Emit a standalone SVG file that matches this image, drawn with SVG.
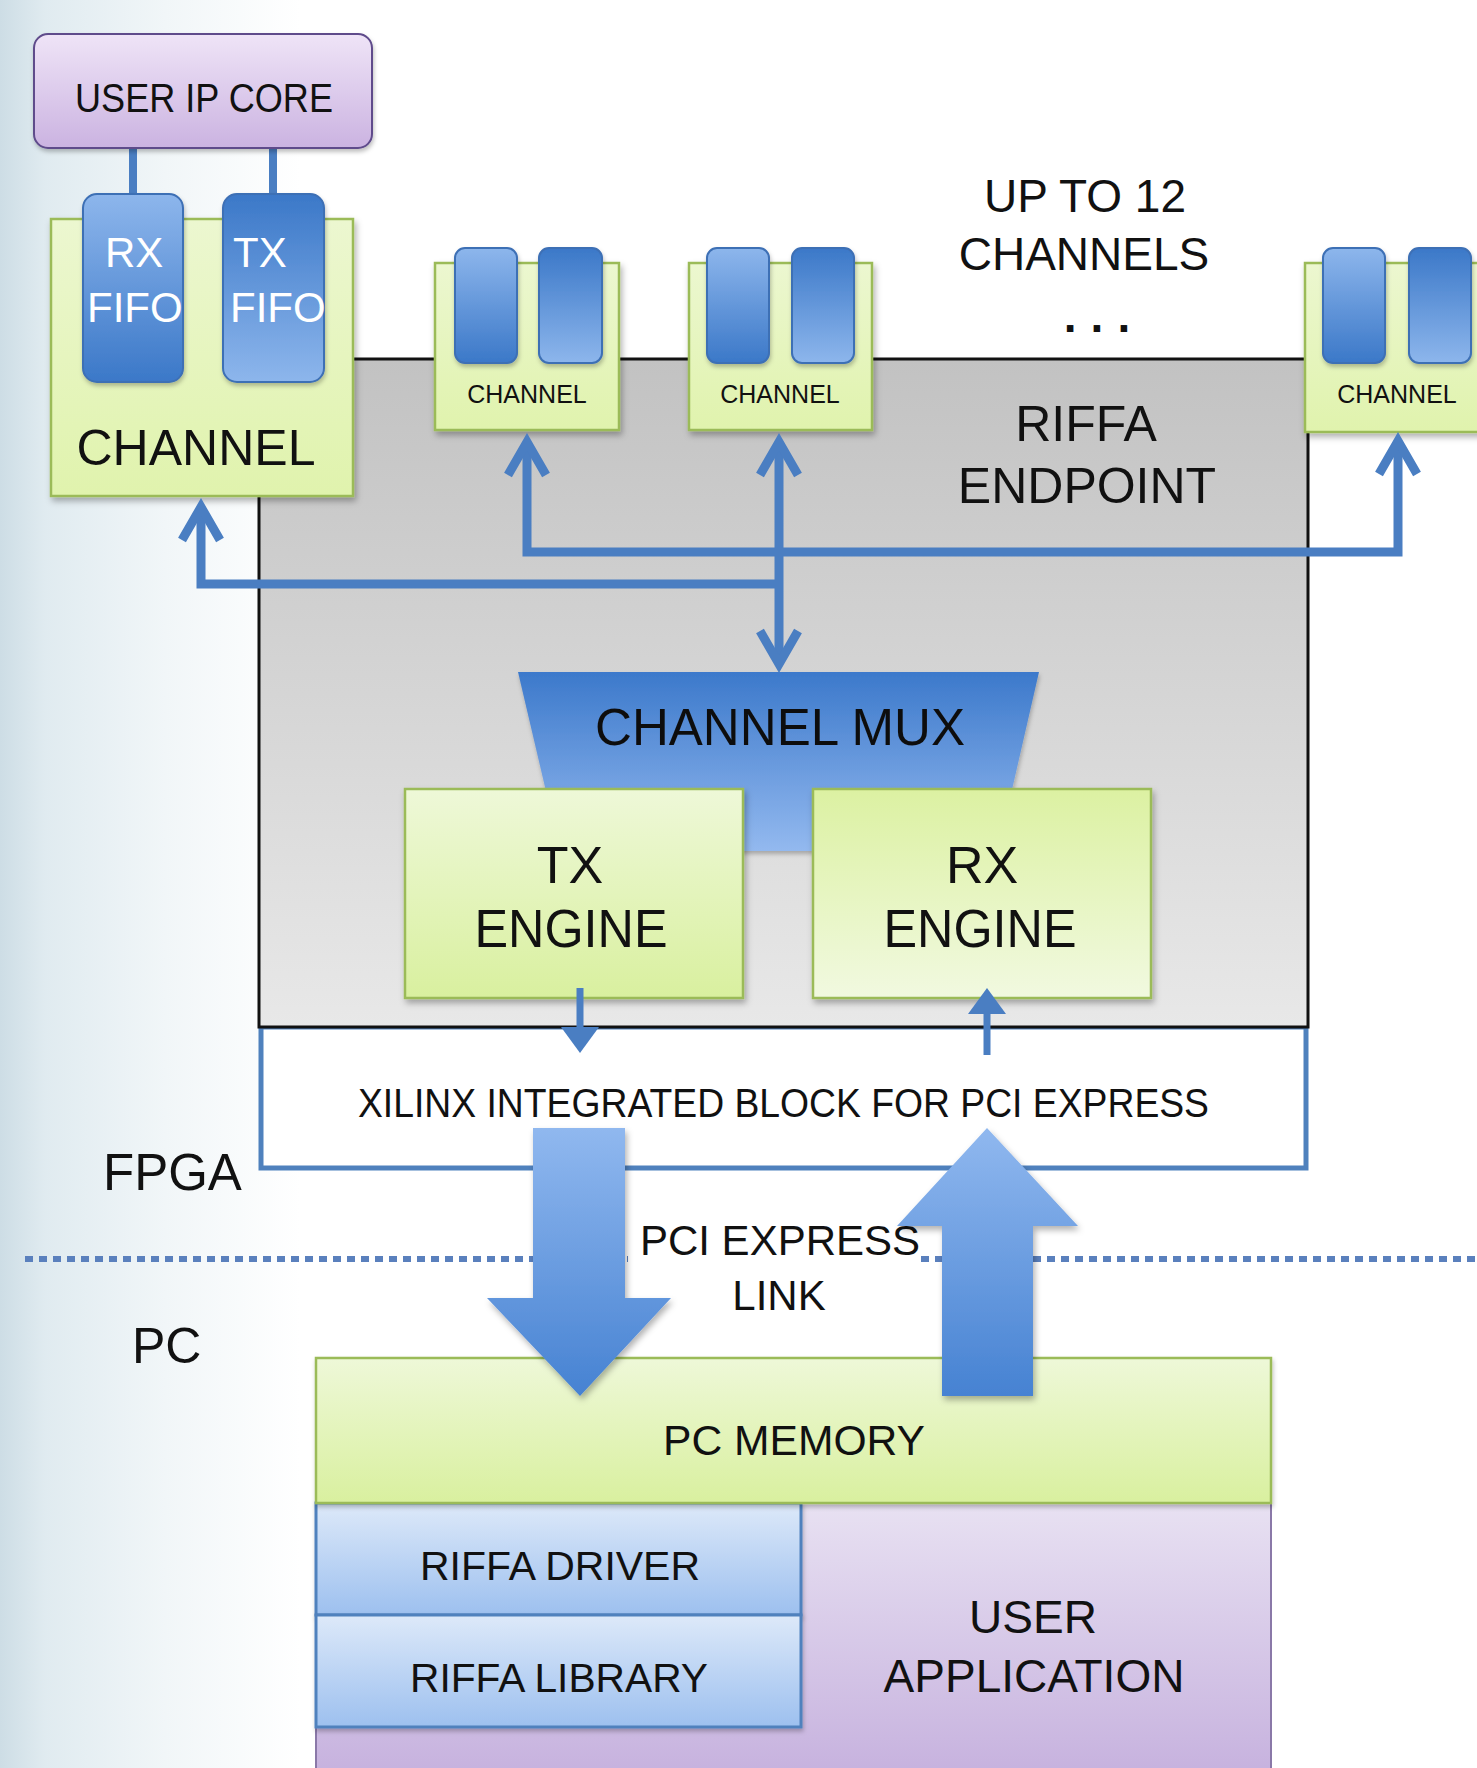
<svg xmlns="http://www.w3.org/2000/svg" width="1477" height="1768" viewBox="0 0 1477 1768">
<defs>
<style>
.t{font-family:"Liberation Sans",Arial,sans-serif;fill:#111}
.c{text-anchor:middle}
.g{stroke:#9bbb59;stroke-width:2.5}
.fifo{stroke:#3d6fb5;stroke-width:2}
.bus{fill:none;stroke:#4a7ec2;stroke-width:9;stroke-linejoin:miter;stroke-miterlimit:10}
.thin{fill:none;stroke:#4a7ec2;stroke-width:7}
</style>
<linearGradient id="bg" x1="0" y1="0" x2="1" y2="0">
<stop offset="0" stop-color="#cddde5"/><stop offset="0.15" stop-color="#e0ebf0"/><stop offset="0.55" stop-color="#f1f6f8"/><stop offset="1" stop-color="#ffffff"/>
</linearGradient>
<linearGradient id="grey" x1="0" y1="0" x2="0" y2="1"><stop offset="0" stop-color="#c2c2c2"/><stop offset="1" stop-color="#e8e8e8"/></linearGradient>
<linearGradient id="green" x1="0" y1="0" x2="0" y2="1"><stop offset="0" stop-color="#eef8d8"/><stop offset="1" stop-color="#d9f09f"/></linearGradient>
<linearGradient id="greenR" x1="0" y1="0" x2="0" y2="1"><stop offset="0" stop-color="#dcf1a2"/><stop offset="1" stop-color="#f1f9e0"/></linearGradient>
<linearGradient id="chg" x1="0" y1="0" x2="0" y2="1"><stop offset="0" stop-color="#ecf7d0"/><stop offset="1" stop-color="#e0f3ad"/></linearGradient>
<linearGradient id="fifoA" x1="0" y1="0" x2="0" y2="1"><stop offset="0" stop-color="#8db6ec"/><stop offset="1" stop-color="#3b78c8"/></linearGradient>
<linearGradient id="fifoB" x1="0" y1="0" x2="0" y2="1"><stop offset="0" stop-color="#3b78c8"/><stop offset="1" stop-color="#8db6ec"/></linearGradient>
<linearGradient id="mux" x1="0" y1="0" x2="0" y2="1"><stop offset="0" stop-color="#3c79cb"/><stop offset="1" stop-color="#93b9ef"/></linearGradient>
<linearGradient id="big" x1="0" y1="0" x2="0" y2="1"><stop offset="0" stop-color="#90b8ef"/><stop offset="1" stop-color="#4682d2"/></linearGradient>
<linearGradient id="purp" x1="0" y1="0" x2="0" y2="1"><stop offset="0" stop-color="#efe4f7"/><stop offset="1" stop-color="#cbb3e1"/></linearGradient>
<linearGradient id="purp2" x1="0" y1="0" x2="0" y2="1"><stop offset="0" stop-color="#e8e1f2"/><stop offset="1" stop-color="#c6b1de"/></linearGradient>
<linearGradient id="blue" x1="0" y1="0" x2="0" y2="1"><stop offset="0" stop-color="#dde9f9"/><stop offset="1" stop-color="#9dc0ef"/></linearGradient>
<filter id="sh" x="-10%" y="-10%" width="130%" height="130%"><feDropShadow dx="2" dy="4" stdDeviation="3" flood-color="#000" flood-opacity="0.3"/></filter>
<filter id="sh2" x="-10%" y="-10%" width="130%" height="130%"><feDropShadow dx="1" dy="3" stdDeviation="2" flood-color="#000" flood-opacity="0.25"/></filter>
<marker id="chev" markerUnits="userSpaceOnUse" viewBox="-50 -30 70 60" refX="0" refY="0" markerWidth="70" markerHeight="60" orient="auto-start-reverse" overflow="visible">
<path d="M-32,-19 L1,0 L-32,19" fill="none" stroke="#4a7ec2" stroke-width="9" stroke-linejoin="miter" stroke-miterlimit="10"/>
</marker>
<marker id="tri" markerUnits="userSpaceOnUse" viewBox="-30 -25 50 50" refX="0" refY="0" markerWidth="50" markerHeight="50" orient="auto" overflow="visible">
<path d="M8,0 L-18,-19 L-18,19 Z" fill="#4a7ec2"/>
</marker>
</defs>

<rect width="1477" height="1768" fill="#fff"/>
<rect width="300" height="1768" fill="url(#bg)"/>

<!-- PCIe divider and labels -->
<g id="divider">
<line x1="25" y1="1259" x2="1477" y2="1259" stroke="#5a80bd" stroke-width="6" stroke-dasharray="8 6"/>
</g>
<g id="pcie-label">
<rect x="628" y="1222" width="292" height="108" fill="#fff"/>
<text class="t c" x="780" y="1255" font-size="42">PCI EXPRESS</text>
<text class="t c" x="779" y="1310" font-size="42">LINK</text>
</g>
<g id="fpga-label"><text class="t" x="103" y="1190" font-size="51">FPGA</text></g>
<g id="pc-label"><text class="t" x="132" y="1363" font-size="50">PC</text></g>

<!-- Xilinx block -->
<g id="xilinx">
<rect x="261" y="1027" width="1045" height="141" fill="#fff" stroke="#4f81bd" stroke-width="5"/>
<text class="t" x="358" y="1117" font-size="40" textLength="851" lengthAdjust="spacingAndGlyphs">XILINX INTEGRATED BLOCK FOR PCI EXPRESS</text>
</g>

<!-- RIFFA endpoint -->
<g id="riffa-endpoint">
<rect x="259" y="359" width="1049" height="668" fill="url(#grey)" stroke="#111" stroke-width="3"/>
<text class="t c" x="1086" y="441" font-size="50">RIFFA</text>
<text class="t c" x="1087" y="503" font-size="50">ENDPOINT</text>
</g>

<g id="up-to-12">
<text class="t c" x="1085" y="212" font-size="46">UP TO 12</text>
<text class="t c" x="1084" y="270" font-size="46">CHANNELS</text>
<text class="t c" x="1104" y="332" font-size="46" font-weight="bold" letter-spacing="14">...</text>
</g>

<!-- Channel MUX -->
<g id="channel-mux" filter="url(#sh2)">
<polygon points="518,672 1039,672 998,851 560,851" fill="url(#mux)"/>
<text class="t c" x="780" y="745" font-size="52" textLength="370" lengthAdjust="spacingAndGlyphs">CHANNEL MUX</text>
</g>

<g id="tx-engine">
<rect x="405" y="789" width="338" height="209" fill="url(#green)" class="g" filter="url(#sh)"/>
<text class="t c" x="570" y="883" font-size="52">TX</text>
<text class="t c" x="571" y="947" font-size="53" textLength="193" lengthAdjust="spacingAndGlyphs">ENGINE</text>
</g>
<g id="rx-engine">
<rect x="813" y="789" width="338" height="209" fill="url(#greenR)" class="g" filter="url(#sh)"/>
<text class="t c" x="982" y="883" font-size="52">RX</text>
<text class="t c" x="980" y="947" font-size="53" textLength="193" lengthAdjust="spacingAndGlyphs">ENGINE</text>
</g>

<!-- User IP core -->
<g id="ipcore-links">
<line x1="133" y1="146" x2="133" y2="200" stroke="#4a7ec2" stroke-width="8"/>
<line x1="273" y1="146" x2="273" y2="200" stroke="#4a7ec2" stroke-width="8"/>
</g>
<g id="user-ip-core">
<rect x="34" y="34" width="338" height="114" rx="14" fill="url(#purp)" stroke="#5f4b8b" stroke-width="2" filter="url(#sh2)"/>
<text class="t" x="75" y="112" font-size="41" textLength="258" lengthAdjust="spacingAndGlyphs">USER IP CORE</text>
</g>

<!-- Channel 1 (expanded) -->
<g id="channel-1">
<rect x="51" y="219" width="302" height="277" fill="url(#chg)" class="g" filter="url(#sh)"/>
<rect x="83" y="194" width="100" height="188" rx="14" fill="url(#fifoA)" class="fifo" filter="url(#sh2)"/>
<rect x="223" y="194" width="101" height="188" rx="14" fill="url(#fifoB)" class="fifo" filter="url(#sh2)"/>
<text class="t" x="105" y="267" font-size="42" style="fill:#fff">RX</text>
<text class="t" x="87" y="322" font-size="42" style="fill:#fff">FIFO</text>
<text class="t" x="233" y="267" font-size="42" style="fill:#fff">TX</text>
<text class="t" x="230" y="322" font-size="42" style="fill:#fff">FIFO</text>
<text class="t c" x="196" y="465" font-size="50">CHANNEL</text>
</g>

<g id="channel-2">
<rect x="435" y="263" width="184" height="167" fill="url(#chg)" class="g" filter="url(#sh)"/>
<rect x="455" y="248" width="62" height="115" rx="10" fill="url(#fifoA)" class="fifo" filter="url(#sh2)"/>
<rect x="539" y="248" width="63" height="115" rx="10" fill="url(#fifoB)" class="fifo" filter="url(#sh2)"/>
<text class="t c" x="527" y="403" font-size="25">CHANNEL</text>
</g>
<g id="channel-3">
<rect x="689" y="263" width="183" height="167" fill="url(#chg)" class="g" filter="url(#sh)"/>
<rect x="707" y="248" width="62" height="115" rx="10" fill="url(#fifoA)" class="fifo" filter="url(#sh2)"/>
<rect x="792" y="248" width="62" height="115" rx="10" fill="url(#fifoB)" class="fifo" filter="url(#sh2)"/>
<text class="t c" x="780" y="403" font-size="25">CHANNEL</text>
</g>
<g id="channel-n">
<rect x="1305" y="263" width="184" height="169" fill="url(#chg)" class="g" filter="url(#sh)"/>
<rect x="1323" y="248" width="62" height="115" rx="10" fill="url(#fifoA)" class="fifo" filter="url(#sh2)"/>
<rect x="1409" y="248" width="62" height="115" rx="10" fill="url(#fifoB)" class="fifo" filter="url(#sh2)"/>
<text class="t c" x="1397" y="403" font-size="25">CHANNEL</text>
</g>

<!-- PC side -->
<g id="user-application">
<rect x="316" y="1503" width="955" height="275" fill="url(#purp2)" stroke="#8a78a8" stroke-width="2"/>
<text class="t c" x="1033" y="1633" font-size="46">USER</text>
<text class="t c" x="1034" y="1692" font-size="46">APPLICATION</text>
</g>
<g id="riffa-driver">
<rect x="316" y="1503" width="485" height="112" fill="url(#blue)" stroke="#4f81bd" stroke-width="3" filter="url(#sh2)"/>
<text class="t" x="420" y="1580" font-size="41" textLength="280" lengthAdjust="spacingAndGlyphs">RIFFA DRIVER</text>
</g>
<g id="riffa-library">
<rect x="316" y="1615" width="485" height="112" fill="url(#blue)" stroke="#4f81bd" stroke-width="3" filter="url(#sh2)"/>
<text class="t" x="410" y="1692" font-size="41" textLength="298" lengthAdjust="spacingAndGlyphs">RIFFA LIBRARY</text>
</g>
<g id="pc-memory">
<rect x="316" y="1358" width="955" height="145" fill="url(#green)" class="g" filter="url(#sh2)"/>
<text class="t" x="663" y="1455" font-size="43" textLength="262" lengthAdjust="spacingAndGlyphs">PC MEMORY</text>
</g>

<!-- Connectors -->
<g id="connectors">
<path class="bus" d="M527,443 L527,552 L1398,552 L1398,442" marker-start="url(#chev)" marker-end="url(#chev)"/>
<path class="bus" d="M201,508 L201,584 L779,584" marker-start="url(#chev)"/>
<path class="bus" d="M779,443 L779,663" marker-start="url(#chev)" marker-end="url(#chev)"/>
<path class="thin" d="M580,988 L580,1045" marker-end="url(#tri)"/>
<path class="thin" d="M987,1055 L987,996" marker-end="url(#tri)"/>
<polygon points="533,1128 625,1128 625,1298 671,1298 580,1396 487,1298 533,1298" fill="url(#big)" filter="url(#sh)"/>
<polygon points="987,1128 1078,1226 1033,1226 1033,1396 942,1396 942,1226 897,1226" fill="url(#big)" filter="url(#sh)"/>
</g>
</svg>
